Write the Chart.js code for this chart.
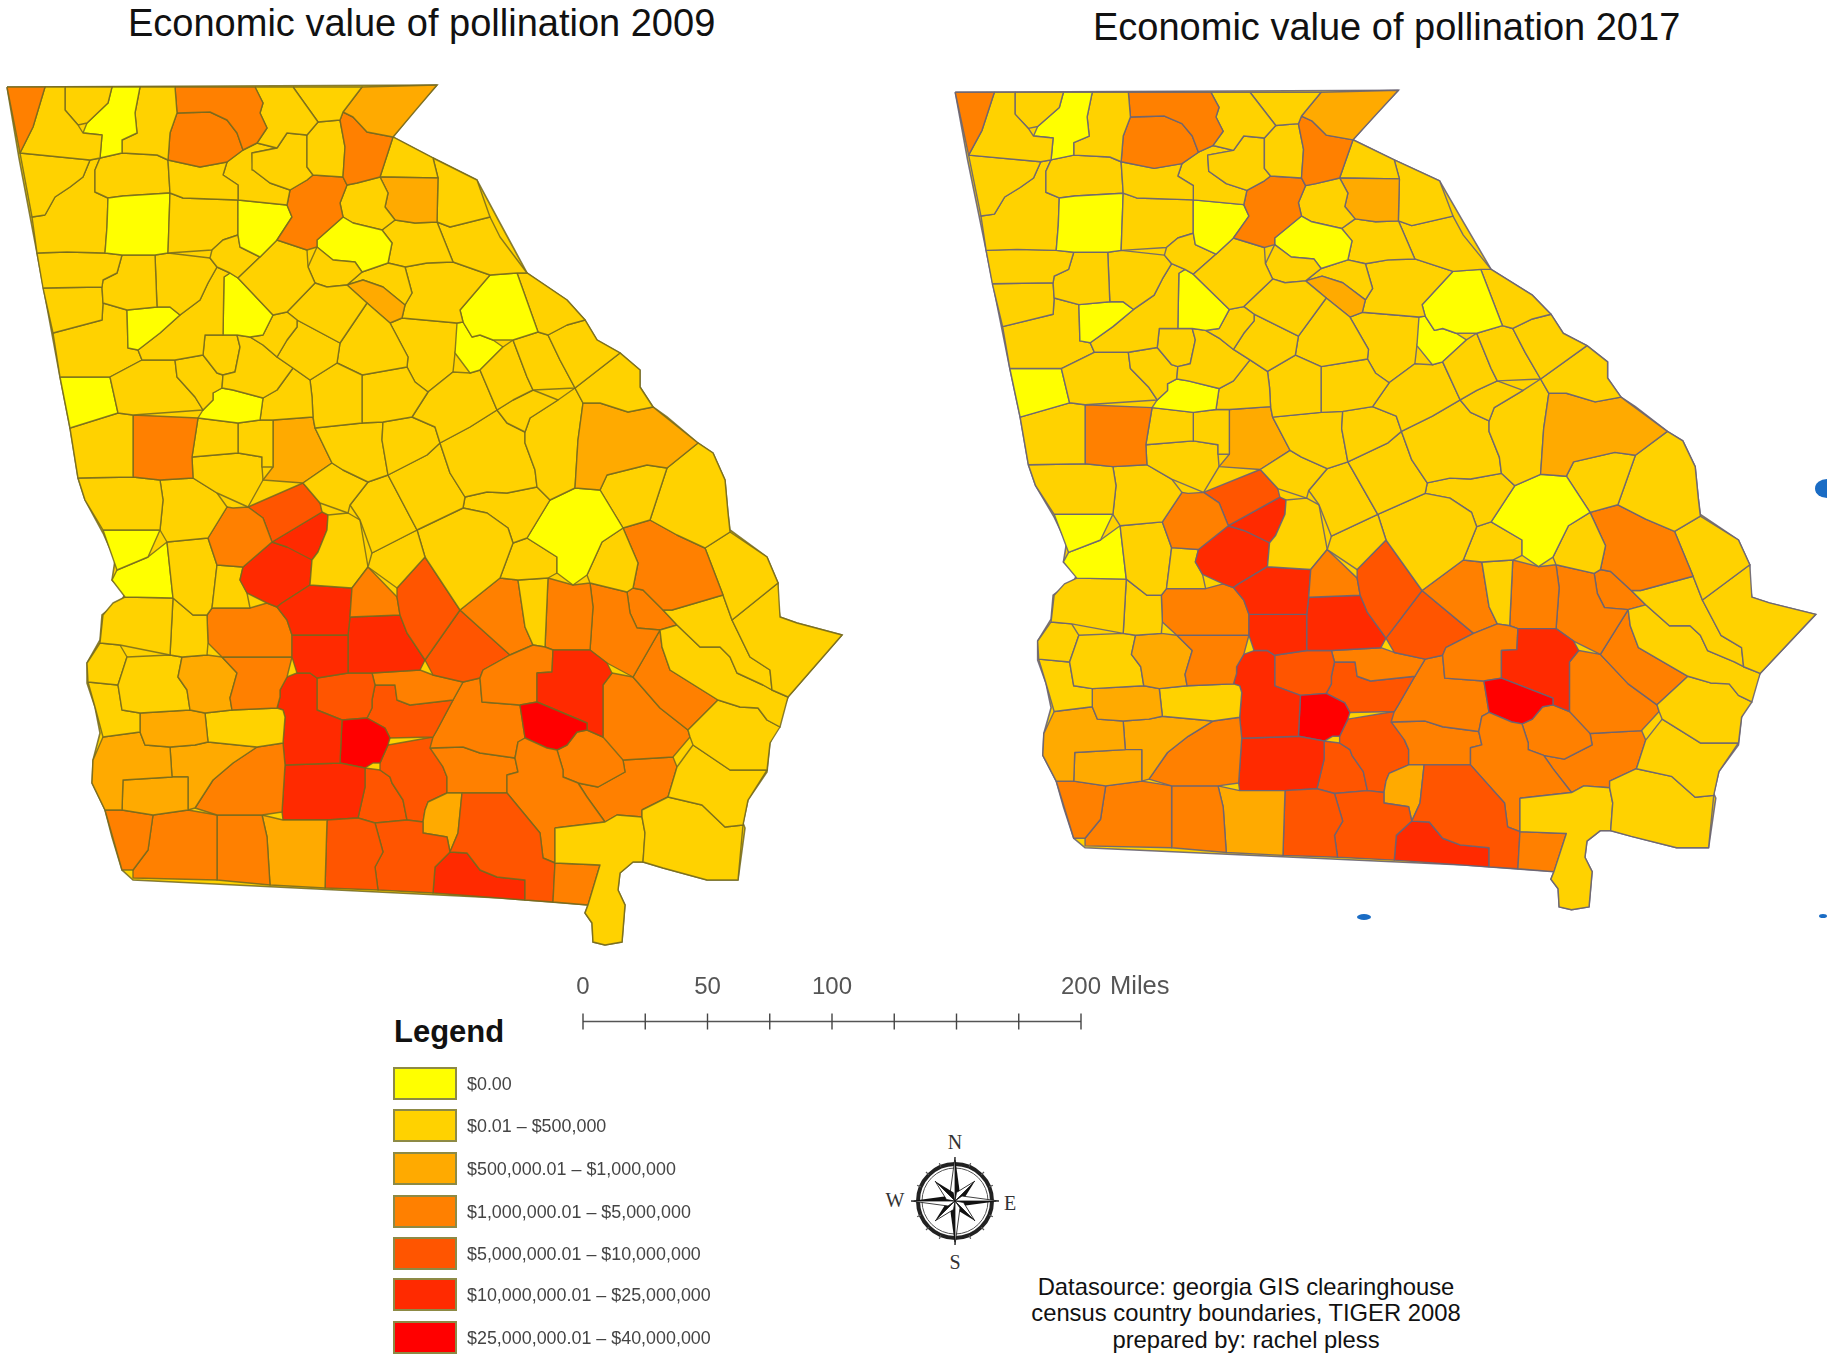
<!DOCTYPE html>
<html>
<head>
<meta charset="utf-8">
<title>Economic value of pollination</title>
<script src="https://cdn.jsdelivr.net/npm/chart.js@4"></script>
<style>
  html, body { margin: 0; background: #fff; }
  body { position: relative; width: 1827px; height: 1361px; overflow: hidden; font-family: "Liberation Sans", Arial, sans-serif; }
  canvas { position: absolute; filter: blur(0.6px); }
  .title { position: absolute; font-size: 38px; color: #111; white-space: nowrap; }
  .legend-title { position: absolute; left: 394px; top: 1014px; font-size: 31px; font-weight: bold; color: #111; }
  .swatch { position: absolute; left: 393px; width: 64px; box-sizing: border-box; border: 2px solid #8d8a45; }
  .swatch-label { position: absolute; left: 467px; font-size: 17.9px; color: #444; white-space: nowrap; filter: blur(0.3px); }
  .credit { position: absolute; left: 946px; top: 1274px; width: 600px; text-align: center; font-size: 23.8px; line-height: 26.4px; color: #111; }
  .miles { position: absolute; left: 1110px; top: 971px; font-size: 25.5px; color: #555; }
  .speck { position: absolute; background: #1a6cc4; border-radius: 50%; }
  #compass { position: absolute; left: 880px; top: 1130px; }
</style>
</head>
<body>
<div class="title" style="left:128px;top:2px">Economic value of pollination 2009</div>
<div class="title" style="left:1093px;top:6px">Economic value of pollination 2017</div>
<canvas id="map2009" width="860" height="890" style="left:0;top:70px"></canvas>
<canvas id="map2017" width="876" height="848" style="left:948px;top:76px"></canvas>
<canvas id="scaleBar" width="640" height="80" style="left:553px;top:976px"></canvas>
<div class="miles">Miles</div>
<div class="legend-title">Legend</div>
<div id="legend"></div>
<svg id="compass" width="150" height="145" viewBox="-75 -71 150 145"></svg>
<div class="credit">Datasource: georgia GIS clearinghouse<br>census country boundaries, TIGER 2008<br>prepared by: rachel pless</div>
<div class="speck" style="left:1815px;top:479px;width:24px;height:19px"></div>
<div class="speck" style="left:1357px;top:914px;width:14px;height:6px"></div>
<div class="speck" style="left:1819px;top:914px;width:8px;height:4px"></div>

<script>
const classColors = ["#ffff00", "#ffd200", "#ffaa00", "#ff8000", "#ff5500", "#ff2a00", "#ff0000"];
const classLabels = [
  "$0.00",
  "$0.01 – $500,000",
  "$500,000.01 – $1,000,000",
  "$1,000,000.01 – $5,000,000",
  "$5,000,000.01 – $10,000,000",
  "$10,000,000.01 – $25,000,000",
  "$25,000,000.01 – $40,000,000",
];
const swatchTops = [1067, 1109, 1152, 1195, 1237, 1278, 1321];

const scaleMiles = [0, 25, 50, 75, 100, 125, 150, 175, 200];
const scaleLabels = [0, 50, 100, 200];

// value class of each county, same order as countyOutlines
const class2009 = [
  3,1,1,0,1,3,3,1,1,2, 3,1,1,1,1,3,0,1,1,1,
  0,1,1,1,1,1,1,0,1,0, 1,1,1,1,1,1,1,1,1,0,
  0,1,1,1,1,1,0,2,1,1, 2,1,1,1,1,1,0,1,1,1,
  2,1,1,0,1,1,1,1,1,1, 1,1,1,1,1,1,1,0,1,1,
  1,1,3,1,1,1,1,1,1,1, 1,3,4,3,6,5,3,1,3,3,
  3,3,3,3,3,3,4,3,1,5, 5,5,4,1,3,1,1,2,1,1,
  1,3,4,5,5,1,1,0,0,1, 1,3,3,2,1,1,1,2,1,2,
  2,2,3,3,3,3,2,4,4,5, 2,5,5,6,4,3,4,3,3,4,
  4,
];
const class2017 = [
  3,1,1,0,1,3,3,1,1,2, 3,1,1,1,1,3,0,1,1,1,
  0,1,1,1,1,1,1,0,1,0, 1,1,1,1,1,1,1,1,1,0,
  0,1,1,1,1,1,0,2,1,1, 2,1,1,1,1,1,0,1,1,1,
  2,1,1,0,1,1,1,1,1,1, 1,1,1,1,1,1,1,0,1,1,
  1,1,3,1,1,1,1,1,1,1, 1,3,4,3,6,5,3,1,3,3,
  3,3,3,3,3,3,4,3,1,5, 5,5,4,1,3,1,1,2,1,1,
  1,3,4,5,5,1,1,0,0,1, 1,3,3,2,1,1,1,2,1,2,
  2,2,3,3,3,3,2,4,4,5, 2,5,5,6,4,3,4,3,3,4,
  4,
];

// state silhouette, drawn under the counties
const stateOutline = [7,87,437,85,415,110,393,137,433,158,477,180,500,223,527,273,567,300,585,320,597,340,620,353,640,370,640,387,653,407,667,417,698,443,713,453,725,480,728,513,730,530,767,557,778,583,777,597,780,617,797,623,842,635,788,697,770,743,767,772,748,800,743,823,745,828,738,880,707,880,663,868,643,862,633,862,620,873,618,890,625,905,622,942,605,945,593,942,592,923,585,913,588,905,500,898,133,880,122,870,112,837,105,810,92,783,93,760,100,733,95,707,87,683,87,663,100,640,102,615,123,598,125,593,112,580,115,560,103,533,85,500,78,478,70,428,60,377,37,253,19,158];

// county boundaries as x,y pairs in map units
const countyOutlines = [
  /* 0 */ [7,87,45,87,33,127,20,153],
  [45,87,65,87,65,110,78,125,83,133,102,135,100,158,19,158,20,153,33,127],
  [65,87,112,87,108,103,87,123,78,125,65,110],
  [112,87,140,87,135,113,137,133,122,140,122,153,103,153,102,135,83,133,87,123,108,103],
  [140,87,175,87,177,113,170,133,168,160,157,155,122,153,122,140,137,133,135,113],
  [175,87,255,87,263,103,260,113,267,128,257,143,243,150,237,133,227,120,210,112,177,112],
  [177,112,210,112,227,120,237,133,243,150,227,162,200,167,168,165,170,133],
  [255,87,293,87,318,122,307,135,287,133,277,148,257,143,267,128,260,113,263,103],
  [293,87,362,87,343,112,340,120,318,122],
  [362,87,437,85,393,137,367,132,353,117,343,112],
  /* 10 */ [340,120,343,112,353,117,367,132,393,137,380,177,347,185,343,177,345,147],
  [318,122,340,120,345,147,343,172,313,175,307,167,307,135],
  [277,148,287,133,307,135,307,167,313,175,307,180,290,190,270,183,253,170,252,153],
  [170,165,200,167,227,162,223,175,238,185,238,200,183,198,170,193],
  [227,162,243,150,257,143,277,148,252,153,253,170,270,183,290,190,287,205,240,205,238,185,223,175],
  [290,190,307,180,313,175,343,177,347,185,340,203,343,217,317,240,307,250,277,240,292,217,287,205],
  [240,205,287,205,292,217,277,240,260,257,240,247],
  [277,240,307,250,308,267,315,283,287,312,273,315,238,278,260,257],
  [212,250,223,240,238,235,240,247,260,257,240,273,230,273,217,267,210,258],
  [170,193,183,198,238,200,238,235,223,240,212,250,210,255,168,253],
  /* 20 */ [108,198,123,196,168,196,168,253,105,253,107,227],
  [98,157,122,153,157,155,168,160,168,196,123,196,95,192,95,170],
  [19,158,90,160,83,177,70,187,55,197,45,215,32,217],
  [45,215,55,197,70,187,83,177,90,160,98,157,95,170,95,192,108,198,107,227,105,253,37,253,32,217],
  [37,253,67,252,122,255,117,273,103,280,102,287,43,288],
  [122,255,155,255,157,307,127,310,103,303,102,287,103,280,117,273],
  [155,255,210,257,217,267,208,283,200,300,180,315,170,307,157,307],
  [127,310,157,307,170,307,180,315,160,333,138,350,128,348],
  [217,267,230,273,224,277,223,335,205,335,203,355,175,360,142,360,138,350,160,333,180,315,200,300,208,283],
  [224,277,238,278,273,315,263,335,223,335],
  /* 30 */ [273,315,287,312,297,320,297,327,287,340,277,357,263,345,250,337,263,335],
  [315,283,327,287,347,285,367,303,340,343,297,320,287,312],
  [297,320,340,343,337,363,310,380,293,368,277,357,287,340,297,327],
  [237,335,250,337,263,345,277,357,293,368,277,390,263,398,233,390,222,388,223,375,235,372,240,347],
  [205,335,237,335,240,347,235,372,223,375,217,373,208,357,203,355],
  [175,360,203,355,208,357,217,373,217,390,213,400,203,410,195,397,177,377],
  [110,377,138,357,142,360,175,360,177,377,195,397,198,413,118,413],
  [43,288,102,287,102,320,53,333],
  [53,333,102,320,103,303,127,310,128,348,138,350,138,357,110,377,60,377],
  [60,377,110,377,118,413,70,428],
  /* 40 */ [198,413,213,393,230,392,263,400,260,420,198,418],
  [263,398,277,390,293,368,310,380,312,397,313,417,263,418],
  [310,380,337,363,362,375,362,423,315,428,313,417,312,397],
  [340,343,367,303,390,323,408,357,407,367,362,373,338,362],
  [362,375,407,367,428,392,412,417,383,422,362,423],
  [308,262,317,247,333,260,355,262,362,272,347,283,327,287,315,283],
  [317,247,345,220,353,223,382,230,392,243,388,263,362,272,355,262,333,260],
  [347,285,363,280,383,287,405,305,402,318,390,323,367,303],
  [362,272,388,263,405,267,412,293,405,305,383,287,363,280,347,283],
  [347,185,357,183,377,182,388,193,385,207,395,220,387,230,353,220,343,217,340,203],
  /* 50 */ [380,177,438,178,437,222,415,223,395,220,385,207,388,193,377,182],
  [393,137,433,158,438,178,380,177],
  [433,158,477,180,490,217,450,227,437,222,438,178],
  [387,230,395,220,415,223,437,222,453,262,427,263,408,270,388,263,392,243],
  [437,222,450,227,490,217,500,237,527,273,517,273,490,275,453,262],
  [408,270,427,263,453,262,490,275,460,310,457,323,407,315,412,293],
  [460,310,490,275,517,273,538,332,513,340,493,340,480,335,472,337,463,322],
  [517,273,527,273,567,300,585,320,567,325,548,335,538,332],
  [548,335,567,325,585,320,597,340,620,353,575,388,560,360],
  [575,388,620,353,640,370,640,387,653,407,628,412,600,403,583,403],
  /* 60 */ [583,403,600,403,628,412,653,407,698,443,667,468,647,465,607,475,600,490,575,488,578,440],
  [517,343,538,332,548,335,560,360,575,388,533,390,527,377],
  [480,370,503,347,517,343,527,377,533,390,513,400,497,410],
  [455,353,463,322,472,337,480,335,493,340,503,347,480,370,470,373],
  [428,392,453,372,470,373,480,370,497,410,470,427,440,443,435,427,412,417],
  [390,323,402,318,407,315,457,323,463,322,455,353,453,372,428,392,415,382,408,357],
  [497,410,513,400,533,390,558,400,530,418,525,432,507,423],
  [525,432,530,418,558,400,575,388,583,403,578,440,575,488,550,500,537,487,535,470,525,443],
  [440,443,470,427,497,410,507,423,525,432,525,443,535,470,537,487,507,493,487,492,465,497,450,473],
  [383,422,412,417,435,427,440,443,427,455,388,475,382,440],
  /* 70 */ [318,430,362,423,383,422,382,440,388,475,368,482,343,470,332,463],
  [388,475,427,455,440,443,450,473,465,497,463,508,417,530],
  [303,483,332,463,343,470,368,482,350,505,348,513,320,503],
  [368,482,388,475,417,530,372,553,360,520,350,505],
  [372,553,417,530,425,557,397,588,368,567],
  [417,530,463,508,487,513,508,528,513,543,500,578,460,610,425,557],
  [465,497,487,492,507,493,537,487,550,500,527,538,513,543,508,528,487,513,463,508],
  [527,538,550,500,575,488,602,490,623,528,602,542,587,575,573,585,557,573,557,557],
  [500,578,513,543,527,538,557,557,557,573,518,580],
  [587,577,602,542,623,528,638,563,633,588,590,583],
  /* 80 */ [602,490,607,475,647,465,667,468,650,520,623,528],
  [667,468,698,443,713,453,725,480,728,513,730,532,705,548,677,535,650,520],
  [623,528,650,520,677,535,705,548,723,595,672,610,633,588,638,563],
  [705,548,730,532,767,557,778,583,732,620,723,595],
  [732,620,778,583,780,617,797,623,842,635,788,697,772,690,770,670,750,657],
  [663,610,723,598,732,620,750,657,770,670,772,690,763,685,737,673,730,657,720,647,700,647,677,625],
  [660,630,677,625,700,647,720,647,730,657,737,673,763,685,772,692,788,697,780,727,767,720,758,708,740,707,718,700,670,670,662,647],
  [715,700,740,707,758,708,767,720,780,727,770,743,767,770,730,770,693,745,688,730],
  [693,747,730,770,767,772,748,800,743,825,725,827,702,805,668,797,677,767],
  [642,810,668,797,702,805,725,827,745,828,738,880,707,880,663,868,643,862,645,833],
  /* 90 */ [555,828,605,822,617,815,642,817,645,833,643,862,633,862,620,873,618,890,625,905,622,942,605,945,593,942,592,923,585,913,588,905,600,865,555,863],
  [555,863,600,865,588,905,553,902],
  [462,793,507,793,540,833,543,858,555,863,553,902,525,900,525,880,497,877,480,870,467,853,450,852,458,833],
  [507,793,507,775,518,772,518,742,547,748,557,750,563,777,587,797,605,822,555,828,555,863,543,858,540,833],
  [520,705,537,702,587,723,577,732,567,745,547,748,525,738],
  [553,650,590,650,607,663,612,673,603,685,603,737,587,723,537,702,537,673,552,672],
  [483,670,510,655,533,645,553,650,552,672,537,673,532,700,482,702],
  [518,580,548,578,545,647,537,648,525,627],
  [460,610,500,578,518,580,525,627,537,648,508,653],
  [553,580,587,583,593,607,590,650,547,647],
  /* 100 */ [590,583,627,592,630,613,637,628,660,630,633,677,607,663,590,650,593,607],
  [627,592,643,590,663,610,677,625,660,630,637,628,630,613],
  [633,677,660,630,662,647,670,670,715,700,688,727,660,708],
  [612,675,633,677,660,708,690,737,673,757,623,760,603,737,603,685],
  [558,753,563,743,587,730,603,737,617,740,625,772,598,787,578,783,563,770],
  [580,785,598,787,627,772,625,763,673,762,667,797,640,817,617,815,605,822,590,800],
  [397,597,425,557,460,610,425,660,407,633],
  [350,617,352,588,365,568,397,597,400,615],
  [310,585,312,560,328,515,360,518,372,563,348,588],
  [282,603,310,587,348,588,348,635,292,635,287,620],
  /* 110 */ [292,635,348,635,348,673,297,673],
  [350,618,400,615,407,633,425,660,420,670,350,673],
  [425,660,460,610,508,653,480,678,463,682,433,675],
  [72,428,133,415,133,477,78,478],
  [135,415,195,415,192,457,193,478,135,477],
  [197,418,238,423,238,453,193,457],
  [240,420,273,420,273,467,262,467,262,457,238,455],
  [275,418,313,418,328,460,300,482,263,480,273,467],
  [195,458,262,457,262,480,248,507,217,493,197,477],
  [80,480,160,480,163,500,160,530,103,530,85,500],
  /* 120 */ [163,480,197,480,217,495,227,507,208,538,167,542,160,530,163,500],
  [233,508,263,518,272,542,243,567,217,565,208,540],
  [248,507,300,482,322,512,275,540,267,520],
  [275,542,322,513,330,515,327,530,318,552,312,558,287,547],
  [242,568,273,545,303,548,312,558,308,583,283,600,267,603,247,593,240,580],
  [217,568,240,572,243,593,250,608,212,608],
  [172,542,208,540,217,567,212,610,207,615,193,615,173,598],
  [102,530,125,530,163,533,148,557,117,570,110,550],
  [113,572,148,558,167,543,168,597,125,597,112,580],
  [103,615,113,603,125,598,170,598,170,655,120,645,100,643],
  /* 130 */ [172,600,192,615,207,615,207,655,172,653],
  [208,608,277,607,287,623,292,657,222,657,208,643],
  [222,658,292,658,287,677,280,690,277,708,232,710,230,698,237,673],
  [182,657,222,657,237,672,230,700,232,710,190,710,187,690,178,677],
  [127,657,180,657,178,677,187,690,190,710,122,710,118,685],
  [98,645,115,647,127,657,123,682,88,682,87,663],
  [90,685,118,685,122,712,140,713,140,732,103,737,95,707],
  [142,713,205,713,208,742,195,745,145,745,140,732],
  [207,713,283,710,283,743,210,743],
  [98,737,140,733,145,747,170,747,172,777,123,780,122,810,105,810,92,783,93,760],
  /* 140 */ [123,780,188,777,188,810,122,812],
  [173,747,257,747,233,763,213,780,195,808,190,810,188,777,172,777],
  [258,747,283,745,282,812,197,812,213,780,233,763],
  [107,813,153,815,148,850,133,870,122,870],
  [153,815,217,815,217,880,133,878,148,850],
  [218,815,262,815,267,837,270,885,218,880],
  [263,815,283,820,327,820,325,888,270,885,267,837],
  [327,822,375,823,383,852,375,867,378,890,325,888],
  [375,823,423,822,423,833,447,837,450,852,435,867,433,893,378,890,375,867,383,852],
  [435,867,450,852,467,853,480,870,497,877,525,880,525,900,433,895],
  /* 150 */ [425,810,428,802,458,793,458,833,450,852,447,837,423,833],
  [283,673,310,673,317,678,317,710,342,720,340,763,285,765,285,717,280,697],
  [285,768,365,768,358,818,283,818],
  [345,718,367,718,385,728,388,745,373,763,343,763],
  [318,675,372,673,372,700,367,713,347,717,318,710],
  [375,673,420,670,433,675,463,682,453,700,410,705,397,700,395,685,375,685],
  [372,708,377,687,395,687,397,702,410,705,452,702,433,737,390,738,383,727,367,717],
  [463,682,480,678,482,703,518,703,525,738,518,742,515,758,463,747,430,748,437,730,453,700],
  [433,748,480,753,513,760,518,772,507,775,507,790,447,793,443,767],
  [390,740,432,740,447,777,447,793,428,802,423,820,407,820,403,800,390,777,380,763],
  /* 160 */ [368,768,380,770,392,783,403,820,358,818,365,787],
];

// hand-read neighbours rarely share exact vertices, so close the seams:
// merge close corners, then add each corner to any edge running just past it
function weldOutlines(outlines, cornerGap, edgeGap) {
  const corners = [];
  const welded = outlines.map((flat) => {
    const ring = [];
    for (let i = 0; i < flat.length; i += 2) {
      let corner = corners.find((c) => Math.hypot(c.x - flat[i], c.y - flat[i + 1]) <= cornerGap);
      if (!corner) {
        corner = { x: flat[i], y: flat[i + 1] };
        corners.push(corner);
      }
      if (ring[ring.length - 1] !== corner) ring.push(corner);
    }
    return ring;
  });

  return welded.map((ring) => {
    const result = [];
    ring.forEach((a, i) => {
      const b = ring[(i + 1) % ring.length];
      const dx = b.x - a.x;
      const dy = b.y - a.y;
      const len2 = dx * dx + dy * dy;
      const extra = [];
      corners.forEach((c) => {
        if (ring.includes(c) || !len2) return;
        const t = ((c.x - a.x) * dx + (c.y - a.y) * dy) / len2;
        if (t <= 0.02 || t >= 0.98) return;
        const dist = Math.hypot(a.x + t * dx - c.x, a.y + t * dy - c.y);
        if (dist <= edgeGap) extra.push({ t, c });
      });
      extra.sort((p, q) => p.t - q.t);
      result.push(a, ...extra.map((e) => e.c));
    });
    return result;
  });
}

const weldedCounties = weldOutlines(countyOutlines, 6, 6);

function closeRing(ring) {
  return ring.concat([ring[0]]).map((p) => ({ x: p.x, y: p.y }));
}

function stateRing() {
  const ring = [];
  for (let i = 0; i < stateOutline.length; i += 2) {
    ring.push({ x: stateOutline[i], y: stateOutline[i + 1] });
  }
  return ring;
}

function drawMap(canvasId, classes, borderColor, maxX) {
  const datasets = weldedCounties.map((ring, index) => ({
    label: `county ${index}`,
    data: closeRing(ring),
    showLine: true,
    fill: "shape",
    backgroundColor: classColors[classes[index]],
    borderColor,
    borderWidth: 1.4,
    borderJoinStyle: "round",
    pointRadius: 0,
    clip: false,
  }));
  datasets.push({
    label: "state",
    data: closeRing(stateRing()),
    showLine: true,
    fill: "shape",
    backgroundColor: classColors[1],
    borderColor,
    borderWidth: 1.6,
    pointRadius: 0,
    clip: false,
  });

  return new Chart(document.getElementById(canvasId), {
    type: "scatter",
    data: { datasets },
    options: {
      responsive: false,
      animation: false,
      events: [],
      layout: { padding: 0 },
      plugins: { legend: { display: false }, tooltip: { enabled: false } },
      scales: {
        x: { type: "linear", display: false, min: 0, max: maxX },
        y: { type: "linear", display: false, min: 70, max: 960, reverse: true },
      },
    },
  });
}

function drawScaleBar() {
  new Chart(document.getElementById("scaleBar"), {
    type: "scatter",
    data: {
      datasets: [{
        data: scaleMiles.map((miles) => ({ x: miles, y: 0 })),
        showLine: true,
        borderColor: "#555",
        borderWidth: 1.6,
        pointStyle: "line",
        rotation: 90,
        pointRadius: 8,
        pointBorderColor: "#444",
        pointBorderWidth: 1.4,
        clip: false,
      }],
    },
    options: {
      responsive: false,
      animation: false,
      events: [],
      layout: { padding: { left: 30, right: 112, top: 0, bottom: 0 } },
      plugins: { legend: { display: false }, tooltip: { enabled: false } },
      scales: {
        x: {
          type: "linear",
          position: "top",
          min: 0,
          max: 200,
          border: { display: false },
          grid: { display: false },
          afterBuildTicks: (axis) => { axis.ticks = scaleLabels.map((value) => ({ value })); },
          ticks: {
            color: "#555",
            font: { family: "Liberation Sans", size: 24 },
            padding: 6,
            maxRotation: 0,
            autoSkip: false,
          },
        },
        y: { display: false, min: -1, max: 0.22 },
      },
    },
  });
}

function buildLegend() {
  const holder = document.getElementById("legend");
  classLabels.forEach((label, index) => {
    const top = swatchTops[index];
    const swatch = document.createElement("div");
    swatch.className = "swatch";
    swatch.style.top = `${top}px`;
    swatch.style.height = "33px";
    swatch.style.background = classColors[index];
    holder.appendChild(swatch);
    const text = document.createElement("div");
    text.className = "swatch-label";
    text.style.top = `${top + 7}px`;
    text.textContent = label;
    holder.appendChild(text);
  });
}

function buildCompass() {
  const svg = document.getElementById("compass");
  let marks = '<circle r="37" fill="none" stroke="#222" stroke-width="4"/><circle r="33" fill="none" stroke="#555" stroke-width="1"/>';
  for (let angle = 0; angle < 360; angle += 22.5) {
    marks += `<path transform="rotate(${angle})" d="M0 -37 V-41" stroke="#555" stroke-width="1.2"/>`;
  }
  for (let angle = 0; angle < 360; angle += 45) {
    const long = angle % 90 === 0 ? 44 : 28;
    marks += `<g transform="rotate(${angle})"><path d="M0 -${long} L5 -7 L0 0 Z" fill="#111"/><path d="M0 -${long} L-5 -7 L0 0 Z" fill="#fff" stroke="#111" stroke-width="0.8"/></g>`;
  }
  const letters = [["N", 0, -52], ["S", 0, 68], ["W", -60, 6], ["E", 55, 9]];
  letters.forEach(([letter, x, y]) => {
    marks += `<text x="${x}" y="${y}" text-anchor="middle" font-family="Liberation Serif" font-size="20" fill="#333">${letter}</text>`;
  });
  svg.innerHTML = marks;
}

drawMap("map2009", class2009, "rgba(115,105,30,0.85)", 860);
drawMap("map2017", class2017, "rgba(105,100,115,0.9)", 850);
drawScaleBar();
buildLegend();
buildCompass();
</script>
</body>
</html>
